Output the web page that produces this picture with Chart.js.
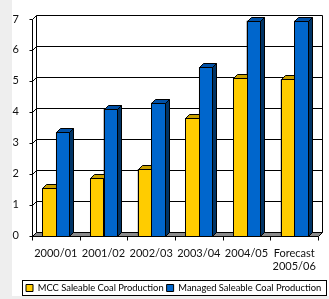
<!DOCTYPE html>
<html><head><meta charset="utf-8">
<script src="https://cdn.jsdelivr.net/npm/chart.js@4/dist/chart.umd.min.js"></script>
<style>html,body{margin:0;padding:0;background:#eeeeee;overflow:hidden}#wrap{width:329px;height:299px;position:relative}canvas{display:block}</style>
</head><body><div id="wrap"><canvas id="c" width="329" height="299"></canvas></div>
<script>
const categories = [['2000/01'], ['2001/02'], ['2002/03'], ['2003/04'], ['2004/05'], ['Forecast', '2005/06']];
const seriesNames = ['MCC Saleable Coal Production', 'Managed Saleable Coal Production'];
const mccProduction = [1.55, 1.85, 2.15, 3.8, 5.1, 5.05];
const managedProduction = [3.35, 4.1, 4.3, 5.45, 6.95, 6.95];
const yTicks = [0, 1, 2, 3, 4, 5, 6, 7];

// pick the narrowest installed sans face close to the reference text width
const mctx = document.createElement('canvas').getContext('2d');
function w(font, s) { mctx.font = font; return mctx.measureText(s).width; }
const probe = seriesNames[1];
const candidates = ['Liberation Sans Narrow', 'DejaVu Sans Condensed', 'Lato', 'Roboto', 'Inter', 'Liberation Sans'];
let FONT = 'Liberation Sans', best = 1e9;
candidates.forEach(c => {
  const a = w("11px '" + c + "', monospace", probe), b = w("11px '" + c + "', serif", probe);
  if (Math.abs(a - b) > 0.5) return;
  const d = Math.abs(a - 142);
  if (d < best) { best = d; FONT = c; }
});
const W11 = w("11px '" + FONT + "'", seriesNames[0]) + w("11px '" + FONT + "'", seriesNames[1]);
let LSIZE = 11;
while (LSIZE > 8 && W11 * LSIZE / 11 + LSIZE > 281) LSIZE -= 0.1;
const FSIZE = 11;

const DX = 4, DY = 4;
const LEGEND_CENTER_Y = 288, LEGEND_START_X = 26;
const faces = [
  {front: '#FFCC00', top: '#C9A000', side: '#9C7C00'},
  {front: '#0066CC', top: '#0050A6', side: '#003466'}
];

function px(v) { return Math.round(v) + 0.5; }

const scene = {
  id: 'scene',
  afterLayout(chart) {
    const lg = chart.legend;
    if (!lg) return;
    const cur = lg.top + 3 + Math.max(LSIZE, 7) / 2;
    const dy = LEGEND_CENTER_Y - cur;
    lg.top += dy; lg.bottom += dy;
    const lw = (lg.lineWidths && lg.lineWidths[0]) || 0;
    const startX = (lg.left + 3 + lg.right - lw) / 2;
    const dx = LEGEND_START_X - startX;
    lg.left += dx; lg.right += dx;
  },
  beforeDraw(chart) {
    const ctx = chart.ctx;
    ctx.save();
    ctx.fillStyle = '#eeeeee';
    ctx.fillRect(0, 0, chart.width, chart.height);
    ctx.fillStyle = '#ffffff';
    ctx.fillRect(12, 0, chart.width - 12, 296);
    ctx.restore();
  },
  beforeDatasetsDraw(chart) {
    const ctx = chart.ctx, y = chart.scales.y;
    const L = chart.chartArea.left, R = chart.chartArea.right;
    const y0 = y.getPixelForValue(0), yTop = y.getPixelForValue(yTicks[yTicks.length - 1]);
    ctx.save();
    ctx.lineWidth = 1;
    ctx.strokeStyle = '#000';
    ctx.beginPath();
    ctx.moveTo(px(L), px(y0));
    ctx.lineTo(px(R), px(y0));
    ctx.lineTo(px(R + DX), px(y0 - DY));
    ctx.lineTo(px(L + DX), px(y0 - DY));
    ctx.closePath();
    ctx.fillStyle = '#8a8a8a';
    ctx.fill();
    ctx.stroke();
    yTicks.forEach(v => {
      const yf = y.getPixelForValue(v);
      const yb = yf - DY;
      ctx.beginPath();
      if (v !== 0) {
        ctx.moveTo(px(L + DX), px(yb));
        ctx.lineTo(px(R + DX), px(yb));
      }
      ctx.moveTo(px(L), px(yf));
      ctx.lineTo(px(L + DX), px(yb));
      ctx.moveTo(px(L - 3), px(yf));
      ctx.lineTo(px(L), px(yf));
      ctx.stroke();
    });
    ctx.beginPath();
    ctx.moveTo(px(L + DX), px(yTop - DY));
    ctx.lineTo(px(L + DX), px(y0 - DY));
    ctx.moveTo(px(R + DX), px(yTop - DY));
    ctx.lineTo(px(R + DX), px(y0 - DY));
    ctx.moveTo(px(L), px(yTop));
    ctx.lineTo(px(L), px(y0));
    const n = categories.length;
    for (let i = 0; i <= n; i++) {
      const xx = L + (R - L) * i / n;
      ctx.moveTo(px(xx), px(y0));
      ctx.lineTo(px(xx), px(y0 + 4));
    }
    ctx.stroke();
    ctx.restore();
  },
  afterDatasetsDraw(chart) {
    const ctx = chart.ctx;
    ctx.save();
    ctx.lineWidth = 1;
    ctx.strokeStyle = '#000';
    const n = categories.length;
    for (let i = 0; i < n; i++) {
      chart.data.datasets.forEach((ds, di) => {
        const f = faces[di];
        const bar = chart.getDatasetMeta(di).data[i];
        const p = bar.getProps(['x', 'y', 'base', 'width'], true);
        const x0 = Math.round(p.x - p.width / 2), x1 = Math.round(p.x + p.width / 2);
        const yt = Math.round(p.y), yb = Math.round(p.base);
        ctx.fillStyle = f.front;
        ctx.fillRect(x0, yt, x1 - x0, yb - yt);
        ctx.strokeRect(x0 + 0.5, yt + 0.5, x1 - x0, yb - yt);
        ctx.beginPath();
        ctx.moveTo(x0 + 0.5, yt + 0.5);
        ctx.lineTo(x1 + 0.5, yt + 0.5);
        ctx.lineTo(x1 + DX + 0.5, yt - DY + 0.5);
        ctx.lineTo(x0 + DX + 0.5, yt - DY + 0.5);
        ctx.closePath();
        ctx.fillStyle = f.top;
        ctx.fill();
        ctx.stroke();
        ctx.beginPath();
        ctx.moveTo(x1 + 0.5, yt + 0.5);
        ctx.lineTo(x1 + DX + 0.5, yt - DY + 0.5);
        ctx.lineTo(x1 + DX + 0.5, yb - DY + 0.5);
        ctx.lineTo(x1 + 0.5, yb + 0.5);
        ctx.closePath();
        ctx.fillStyle = f.side;
        ctx.fill();
        ctx.stroke();
      });
    }
    ctx.restore();
  },
  afterDraw(chart) {
    const hb = chart.legend && chart.legend.legendHitBoxes;
    if (!hb || !hb.length) return;
    const ctx = chart.ctx;
    let minX = Infinity, maxX = -Infinity, cy = 0;
    hb.forEach(h => { minX = Math.min(minX, h.left); maxX = Math.max(maxX, h.left + h.width); cy = h.top + h.height / 2; });
    ctx.save();
    ctx.strokeStyle = '#000';
    ctx.lineWidth = 1;
    const top = Math.round(cy - 8), bottom = Math.min(295, Math.round(cy + 8));
    ctx.strokeRect(Math.round(minX - 4) + 0.5, top + 0.5, Math.round(maxX - minX + 9), bottom - top);
    ctx.restore();
  }
};

new Chart(document.getElementById('c'), {
  type: 'bar',
  data: {
    labels: categories,
    datasets: [
      {label: seriesNames[0], data: mccProduction, backgroundColor: faces[0].front, borderColor: '#000', borderWidth: 1, barPercentage: 1.0, categoryPercentage: 0.57},
      {label: seriesNames[1], data: managedProduction, backgroundColor: faces[1].front, borderColor: '#000', borderWidth: 1, barPercentage: 1.0, categoryPercentage: 0.57}
    ]
  },
  options: {
    responsive: false,
    animation: false,
    devicePixelRatio: 1,
    layout: {padding: {left: 12, right: 11, top: 19, bottom: 3}},
    plugins: {
      tooltip: {enabled: false},
      legend: {
        position: 'bottom',
        labels: {
          boxWidth: 7, boxHeight: 7, padding: 3, color: '#000',
          font: {family: FONT, size: LSIZE}
        }
      }
    },
    scales: {
      x: {
        grid: {display: false},
        border: {display: false},
        ticks: {color: '#111', font: {family: FONT, size: FSIZE}, padding: 3, maxRotation: 0, autoSkip: false},
        afterFit(s) { s.height = 38; }
      },
      y: {
        min: 0, max: 7,
        grid: {display: false},
        border: {display: false},
        ticks: {stepSize: 1, color: '#111', font: {family: FONT, size: FSIZE}, padding: 5},
        afterFit(s) { s.width = 20; }
      }
    }
  },
  plugins: [scene]
});
</script>
</body></html>
